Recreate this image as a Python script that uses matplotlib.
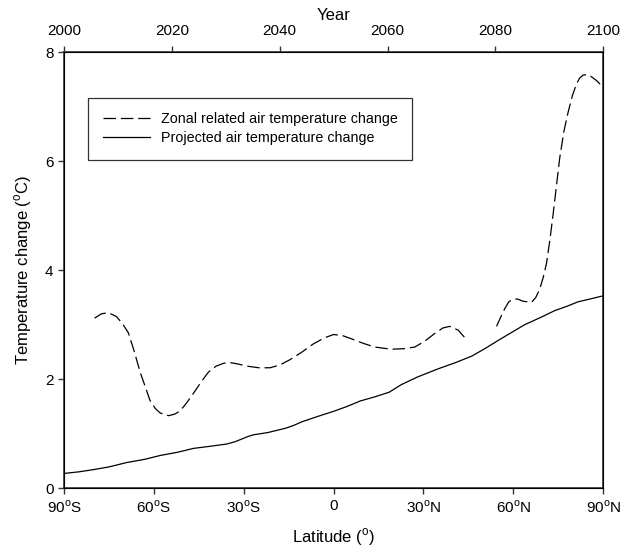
import numpy as np
import matplotlib
matplotlib.use("Agg")
import matplotlib.pyplot as plt

plt.rcParams['font.family'] = ['Liberation Sans', 'DejaVu Sans']
plt.rcParams['mathtext.fontset'] = 'custom'
plt.rcParams['mathtext.rm'] = 'Liberation Sans'
plt.rcParams['lines.scale_dashes'] = False

# zonal temperature change, two pieces (gap around 45-54N)
zonal_lat_1 = [-79.8, -77.5, -75.2, -72.5, -70.5, -68.5, -66.5, -64.6, -62.8, -61.3,
               -59.5, -57.9, -55.1, -53.0, -51.2, -49.0, -46.8, -44.2, -41.8, -39.2,
               -36.8, -35.1, -32.0, -29.0, -25.0, -21.2, -18.0, -14.5, -10.5, -6.7,
               -3.0, 0.0, 3.0, 6.0, 9.8, 13.7, 19.3, 23.5, 27.1, 30.5,
               33.8, 36.5, 38.8, 41.6, 43.2, 44.7]
zonal_temp_1 = [3.12, 3.20, 3.22, 3.15, 3.02, 2.85, 2.50, 2.13, 1.85, 1.61,
                1.46, 1.38, 1.33, 1.36, 1.42, 1.57, 1.74, 1.95, 2.13, 2.24,
                2.29, 2.31, 2.28, 2.24, 2.21, 2.21, 2.26, 2.36, 2.50, 2.65,
                2.76, 2.82, 2.80, 2.74, 2.66, 2.59, 2.55, 2.56, 2.59, 2.70,
                2.84, 2.94, 2.97, 2.90, 2.80, 2.71]
zonal_lat_2 = [54.4, 55.8, 57.1, 58.5, 59.9, 61.5, 63.3, 66.1, 67.5, 68.8,
               70.0, 71.1, 72.2, 73.3, 74.4, 75.5, 76.9, 78.3, 79.7, 81.1,
               82.2, 83.3, 84.7, 86.1, 87.8, 89.4, 90.0]
zonal_temp_2 = [2.97, 3.14, 3.29, 3.42, 3.47, 3.47, 3.43, 3.41, 3.50, 3.65,
                3.87, 4.13, 4.55, 5.03, 5.55, 6.06, 6.55, 6.90, 7.20, 7.42,
                7.53, 7.58, 7.59, 7.55, 7.48, 7.39, 7.36]

# projected temperature change
proj_lat = [-90, -85, -80.2, -75, -69.1, -63, -57.9, -52, -46.8, -41,
            -35.7, -33, -31.2, -28.5, -26.7, -22, -19, -16, -13.4, -10.5,
            -7.8, -4, 0, 4.5, 8.9, 14, 18.5, 22.6, 28, 34.9,
            40.5, 46, 50.5, 54.9, 59.5, 63.8, 69, 73.9, 78, 81.6,
            85.5, 90]
proj_temp = [0.27, 0.30, 0.34, 0.39, 0.47, 0.53, 0.60, 0.66, 0.73, 0.77,
             0.81, 0.85, 0.89, 0.95, 0.98, 1.02, 1.06, 1.10, 1.15, 1.22,
             1.27, 1.34, 1.41, 1.50, 1.60, 1.68, 1.76, 1.90, 2.04, 2.19,
             2.30, 2.42, 2.56, 2.71, 2.86, 3.00, 3.13, 3.26, 3.34, 3.42,
             3.47, 3.53]

lat_ticks = [-90, -60, -30, 0, 30, 60, 90]
lat_labels = [r'90$^\mathrm{o}$S', r'60$^\mathrm{o}$S', r'30$^\mathrm{o}$S', '0',
              r'30$^\mathrm{o}$N', r'60$^\mathrm{o}$N', r'90$^\mathrm{o}$N']
year_ticks = [2000, 2020, 2040, 2060, 2080, 2100]

fig = plt.figure(figsize=(6.24, 5.56), dpi=100)
ax = fig.add_axes([0.1026, 0.122, 0.864, 0.784])

dash = (0, (9, 3.5))
ax.plot(zonal_lat_1, zonal_temp_1, color='black', lw=0.9, linestyle=dash,
        label='Zonal related air temperature change')
ax.plot(zonal_lat_2, zonal_temp_2, color='black', lw=0.9, linestyle=dash)
ax.plot(proj_lat, proj_temp, color='black', lw=0.9,
        label='Projected air temperature change')

ax.set_xlim(-90, 90)
ax.set_ylim(0, 8)
ax.set_xticks(lat_ticks)
ax.set_xticklabels(lat_labels)
ax.set_yticks([0, 2, 4, 6, 8])
ax.tick_params(direction='out', length=4, width=1, labelsize=11, color='#333333')
ax.tick_params(axis='y', right=False)
ax.set_xlabel(r'Latitude ($^\mathrm{o}$)', fontsize=12, labelpad=8)
ax.set_ylabel(r'Temperature change ($^\mathrm{o}$C)', fontsize=12, labelpad=8)
for s in ax.spines.values():
    s.set_color('#333333')
    s.set_linewidth(1.2)

ax2 = ax.twiny()
ax2.set_xlim(2000, 2100)
ax2.set_xticks(year_ticks)
ax2.tick_params(direction='out', length=4, width=1, labelsize=11, color='#333333',
                pad=6)
ax2.set_xlabel('Year', fontsize=12, labelpad=3)

leg = ax.legend(loc='upper left', bbox_to_anchor=(0.045, 0.895), fontsize=10.3,
                frameon=True, fancybox=False, edgecolor='black', handlelength=3.3,
                borderpad=1.0, labelspacing=0.35, handletextpad=0.8,
                borderaxespad=0)
leg.get_frame().set_linewidth(0.9)

fig.savefig('out.png', dpi=100)
